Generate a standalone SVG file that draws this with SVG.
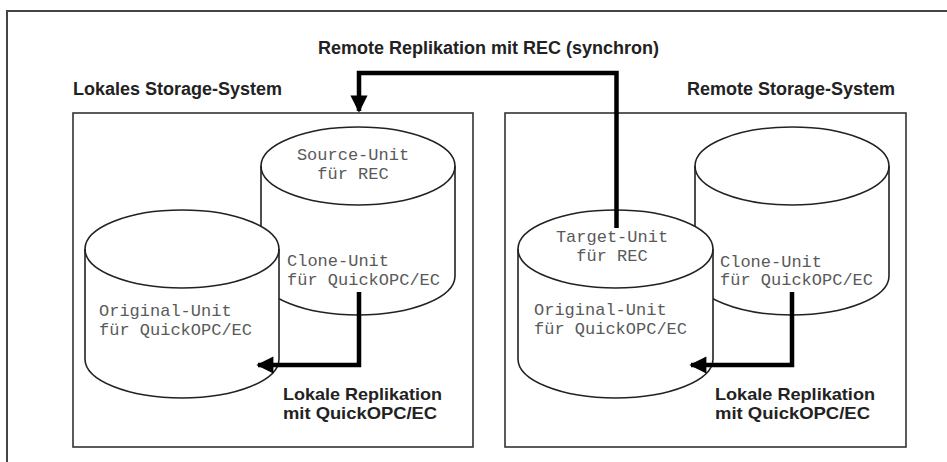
<svg xmlns="http://www.w3.org/2000/svg" width="947" height="462" viewBox="0 0 947 462">
<style>
.frame{fill:none;stroke:#444;stroke-width:2}
.box{fill:none;stroke:#333;stroke-width:1.6}
.cyl{fill:#fff;stroke:#222;stroke-width:1.6}
.cyl-line{fill:none;stroke:#222;stroke-width:1.6}
.title{font-family:"Liberation Sans",Arial,sans-serif;font-weight:bold;font-size:18px;fill:#222}
.label{font-family:"Liberation Sans",Arial,sans-serif;font-weight:bold;font-size:17px;fill:#222}
.mono{font-family:"Liberation Mono","DejaVu Sans Mono",monospace;font-size:17px;fill:#5a5a5a}
.conn{fill:none;stroke:#000;stroke-width:4.5}
</style>
<defs>
<marker id="ah" viewBox="0 0 10 10" refX="9" refY="5" markerWidth="4.2" markerHeight="3.8" orient="auto" markerUnits="strokeWidth">
<path d="M0,0 L10,5 L0,10 Z" fill="#000"/>
</marker>
</defs>
<rect width="947" height="462" fill="#fff"/>
<rect class="frame" x="7" y="11" width="960" height="470"/>

<g id="local-system">
<rect class="box" x="73" y="113" width="400" height="334"/>
<text class="title" x="73" y="95">Lokales Storage-System</text>
</g>
<g id="remote-system">
<rect class="box" x="505" y="113" width="401" height="334"/>
<text class="title" x="687" y="95">Remote Storage-System</text>
</g>

<g id="source-unit">
<path class="cyl" d="M261,166 A97,39 0 0 1 455,166 L455,276 A97,39 0 0 1 261,276 Z"/>
<path class="cyl-line" d="M261,166 A97,39 0 0 0 455,166"/>
<text class="mono" x="353" y="160" text-anchor="middle">Source-Unit</text>
<text class="mono" x="353" y="179" text-anchor="middle">für REC</text>
<text class="mono" x="287" y="266">Clone-Unit</text>
<text class="mono" x="287" y="285">für QuickOPC/EC</text>
</g>

<g id="original-unit-local">
<path class="cyl" d="M85,249 A97,39 0 0 1 279,249 L279,359 A97,39 0 0 1 85,359 Z"/>
<path class="cyl-line" d="M85,249 A97,39 0 0 0 279,249"/>
<text class="mono" x="99" y="316">Original-Unit</text>
<text class="mono" x="99" y="335">für QuickOPC/EC</text>
</g>

<g id="clone-unit-remote">
<path class="cyl" d="M695,166 A97,39 0 0 1 889,166 L889,276 A97,39 0 0 1 695,276 Z"/>
<path class="cyl-line" d="M695,166 A97,39 0 0 0 889,166"/>
<text class="mono" x="720" y="267">Clone-Unit</text>
<text class="mono" x="720" y="285">für QuickOPC/EC</text>
</g>

<g id="target-unit">
<path class="cyl" d="M518,249 A97.5,39 0 0 1 713,249 L713,359 A97.5,39 0 0 1 518,359 Z"/>
<path class="cyl-line" d="M518,249 A97.5,39 0 0 0 713,249"/>
<text class="mono" x="612" y="242" text-anchor="middle">Target-Unit</text>
<text class="mono" x="612" y="261" text-anchor="middle">für REC</text>
<text class="mono" x="534" y="315">Original-Unit</text>
<text class="mono" x="534" y="334">für QuickOPC/EC</text>
</g>

<g id="connectors">
<path class="conn" d="M616.5,228 L616.5,73 L359,73 L359,111" marker-end="url(#ah)"/>
<path class="conn" d="M359,292 L359,365 L258,365" marker-end="url(#ah)"/>
<path class="conn" d="M792,292 L792,365 L691,365" marker-end="url(#ah)"/>
<text class="title" x="318" y="54">Remote Replikation mit REC (synchron)</text>
<text class="label" x="283" y="400" textLength="159" lengthAdjust="spacingAndGlyphs">Lokale Replikation</text>
<text class="label" x="283" y="419" textLength="154" lengthAdjust="spacingAndGlyphs">mit QuickOPC/EC</text>
<text class="label" x="715" y="400" textLength="160" lengthAdjust="spacingAndGlyphs">Lokale Replikation</text>
<text class="label" x="715" y="419" textLength="155" lengthAdjust="spacingAndGlyphs">mit QuickOPC/EC</text>
</g>
</svg>
